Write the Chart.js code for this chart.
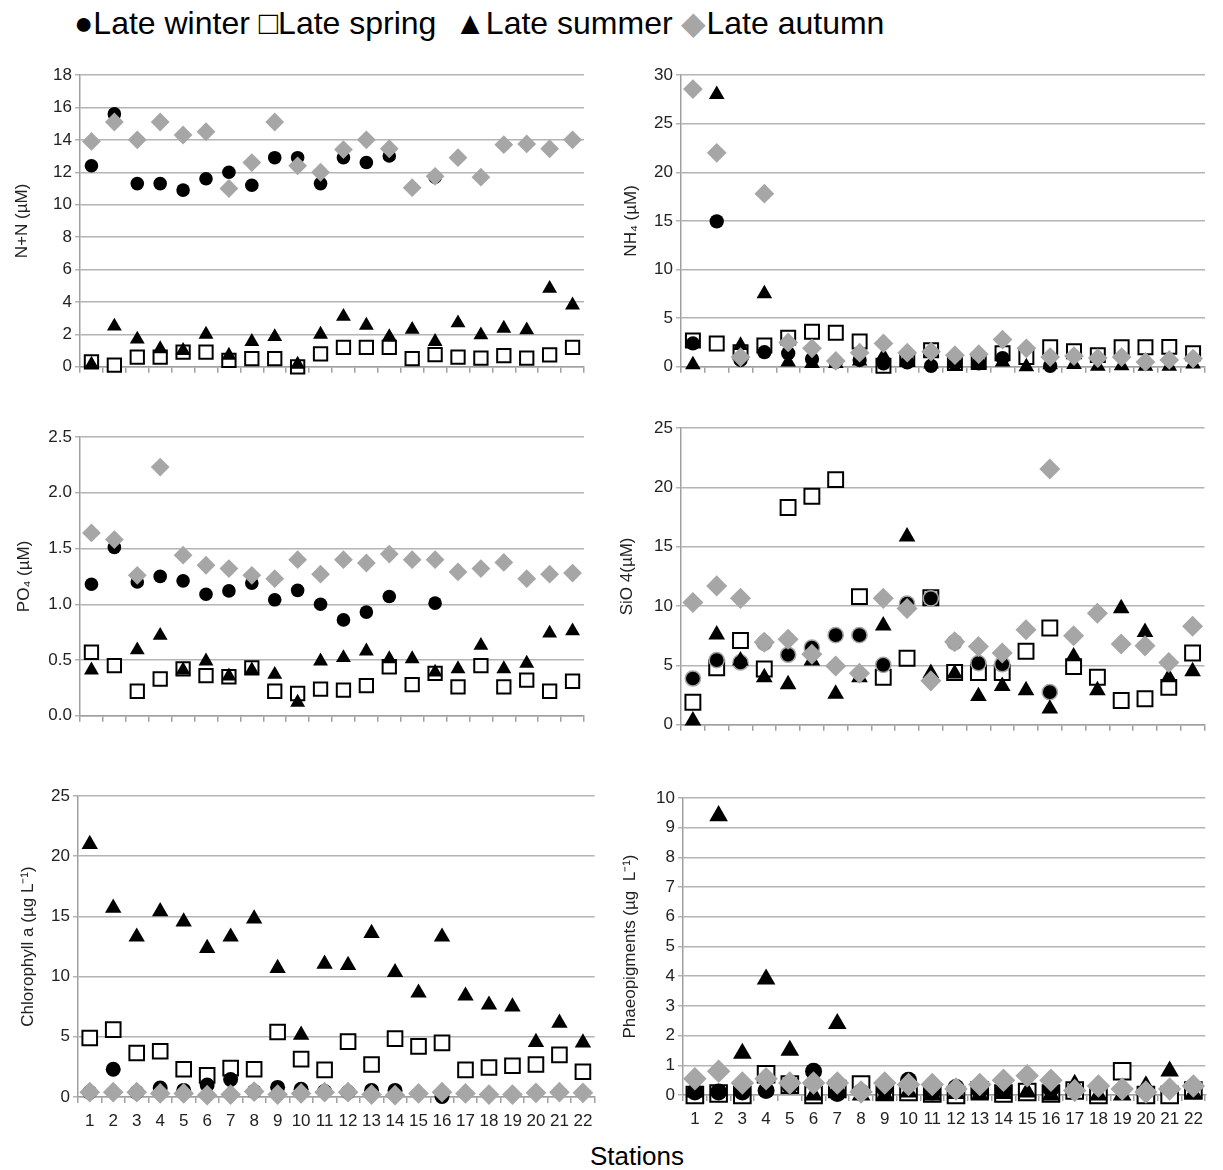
<!DOCTYPE html>
<html>
<head>
<meta charset="utf-8">
<script src="https://cdn.jsdelivr.net/npm/chart.js@4.4.1/dist/chart.umd.min.js"></script>
<style>
  body { margin: 0; background: #fff; width: 1223px; height: 1170px; position: relative; overflow: hidden;
         font-family: "Liberation Sans", Arial, sans-serif; color: #000; }
  canvas { position: absolute; }
  #legend { position: absolute; left: 74px; top: 4px; font-size: 32px; white-space: nowrap; }
  #legend .grey { color: #a6a6a6; }
  #xtitle { position: absolute; left: 590px; top: 1141px; font-size: 26px; }
</style>
</head>
<body>
<div id="legend">●Late winter □Late spring &nbsp;▲Late summer <span class="grey">◆</span>Late autumn</div>
<div id="xtitle">Stations</div>
<canvas id="cNN"></canvas>
<canvas id="cNH4"></canvas>
<canvas id="cPO4"></canvas>
<canvas id="cSiO4"></canvas>
<canvas id="cChl"></canvas>
<canvas id="cPhaeo"></canvas>
<script>
// stations 1..22
const stations = ['1','2','3','4','5','6','7','8','9','10','11','12','13','14','15','16','17','18','19','20','21','22'];

// N+N (µM)
const nnWinter = [12.4, 15.6, 11.3, 11.3, 10.9, 11.6, 12.0, 11.2, 12.9, 12.9, 11.3, 12.9, 12.6, 13.0, null, 11.7, null, null, null, null, null, null];
const nnSpring = [0.3, 0.1, 0.6, 0.6, 0.9, 0.9, 0.4, 0.5, 0.5, 0.0, 0.8, 1.2, 1.2, 1.2, 0.5, 0.75, 0.6, 0.53, 0.69, 0.53, 0.74, 1.2];
const nnSummer = [0.15, 2.5, 1.7, 1.1, 1.0, 2.0, 0.7, 1.55, 1.85, 0.15, 2.0, 3.1, 2.55, 1.85, 2.3, 1.55, 2.7, 1.96, 2.37, 2.27, 4.83, 3.8];
const nnAutumn = [13.9, 15.1, 14.0, 15.1, 14.3, 14.5, 11.0, 12.6, 15.1, 12.4, 12.0, 13.4, 14.0, 13.45, 11.05, 11.75, 12.9, 11.7, 13.7, 13.75, 13.45, 14.0];

// NH4 (µM)
const nh4Winter = [2.4, 14.95, 0.7, 1.5, 1.4, 0.8, 0.5, 0.7, 0.35, 0.45, 0.1, 0.3, 0.35, 0.9, null, 0.1, null, null, null, null, null, null];
const nh4Spring = [2.7, 2.4, 1.5, 2.2, 3.0, 3.6, 3.5, 2.6, 0.1, 0.8, 1.7, 0.4, 0.5, 1.4, 1.0, 2.0, 1.6, 1.2, 2.0, 2.0, 2.05, 1.4];
const nh4Summer = [0.2, 28.0, 2.2, 7.5, 0.5, 0.35, 0.35, 0.6, 1.1, 0.7, 0.3, 0.4, 0.35, 0.5, 0.0, 0.2, 0.25, 0.05, 0.1, 0.05, 0.05, 0.3];
const nh4Autumn = [28.55, 22.0, 1.0, 17.8, 2.5, 1.9, 0.6, 1.45, 2.4, 1.45, 1.55, 1.2, 1.3, 2.8, 1.9, 1.0, 1.1, 0.9, 1.0, 0.5, 0.7, 0.85];

// PO4 (µM)
const po4Winter = [1.18, 1.51, 1.20, 1.25, 1.21, 1.09, 1.12, 1.19, 1.04, 1.125, 1.0, 0.86, 0.93, 1.07, null, 1.01, null, null, null, null, null, null];
const po4Spring = [0.57, 0.45, 0.22, 0.33, 0.42, 0.36, 0.35, 0.43, 0.22, 0.2, 0.24, 0.23, 0.27, 0.44, 0.28, 0.38, 0.26, 0.45, 0.26, 0.32, 0.22, 0.31];
const po4Summer = [0.41, null, 0.59, 0.72, 0.41, 0.49, 0.355, 0.41, 0.37, 0.12, 0.49, 0.52, 0.58, 0.51, 0.51, 0.39, 0.42, 0.63, 0.42, 0.47, 0.74, 0.76];
const po4Autumn = [1.64, 1.58, 1.26, 2.23, 1.44, 1.35, 1.32, 1.26, 1.23, 1.40, 1.27, 1.40, 1.37, 1.45, 1.40, 1.40, 1.29, 1.32, 1.375, 1.23, 1.27, 1.28];

// SiO4 (µM)
const sio4Winter = [3.9, 5.45, 5.25, 6.9, 5.9, 6.5, 7.55, 7.55, 5.05, 10.2, 10.65, 6.95, 5.2, 5.1, null, 2.75, null, null, null, null, null, null];
const sio4Spring = [1.9, 4.8, 7.1, 4.7, 18.3, 19.25, 20.65, 10.8, 4.0, 5.6, 10.7, 4.4, 4.4, 4.4, 6.2, 8.15, 4.9, 4.0, 2.05, 2.2, 3.15, 6.05];
const sio4Summer = [0.35, 7.6, 5.4, 4.0, 3.4, 5.4, 2.6, 4.0, 8.35, 15.85, 4.35, 4.3, 2.4, 3.25, 2.9, 1.35, 5.75, 2.9, 9.8, 7.8, 4.0, 4.5];
const sio4Autumn = [10.3, 11.7, 10.65, 6.95, 7.2, 5.95, 4.95, 4.35, 10.65, 9.8, 3.7, 7.0, 6.6, 6.05, 8.0, 21.55, 7.5, 9.4, 6.8, 6.65, 5.25, 8.3];

// Chlorophyll a (µg L-1)
const chlWinter = [0.4, 2.3, 0.4, 0.75, 0.55, 1.0, 1.45, 0.45, 0.8, 0.65, 0.45, 0.4, 0.55, 0.55, null, 0.05, null, null, null, null, null, null];
const chlSpring = [4.9, 5.6, 3.65, 3.8, 2.3, 1.8, 2.4, 2.3, 5.4, 3.15, 2.25, 4.6, 2.7, 4.85, 4.2, 4.5, 2.25, 2.45, 2.6, 2.7, 3.5, 2.1];
const chlSummer = [21.0, 15.7, 13.3, 15.4, 14.55, 12.35, 13.3, 14.8, 10.7, 5.15, 11.05, 10.95, 13.6, 10.35, 8.65, 13.3, 8.4, 7.65, 7.5, 4.55, 6.15, 4.5];
const chlAutumn = [0.4, 0.4, 0.4, 0.3, 0.3, 0.15, 0.2, 0.45, 0.2, 0.3, 0.4, 0.4, 0.2, 0.15, 0.3, 0.4, 0.3, 0.2, 0.2, 0.35, 0.4, 0.35];

// Phaeopigments (µg L-1)
const phWinter = [0.1, 0.1, 0.1, 0.15, 0.3, 0.8, 0.05, 0.1, 0.2, 0.5, 0.1, 0.25, 0.15, 0.15, null, 0.2, null, null, null, null, null, null];
const phSpring = [0.0, 0.05, 0.0, 0.7, 0.35, 0.0, 0.2, 0.35, 0.1, 0.1, 0.05, 0.0, 0.15, 0.05, 0.1, 0.05, 0.15, 0.0, 0.8, 0.0, 0.0, 0.15];
const phSummer = [0.1, 9.4, 1.4, 3.9, 1.5, 0.0, 2.4, 0.0, 0.0, 0.1, 0.0, 0.05, 0.0, 0.05, 0.1, 0.0, 0.35, 0.0, 0.0, 0.3, 0.8, 0.05];
const phAutumn = [0.55, 0.8, 0.4, 0.55, 0.4, 0.4, 0.4, 0.1, 0.4, 0.35, 0.35, 0.2, 0.35, 0.5, 0.65, 0.5, 0.15, 0.3, 0.2, 0.1, 0.2, 0.3];

const GRID = '#b4b4b4';
const AXIS = '#a0a0a0';
const GREY = '#a6a6a6';

// one scatter panel; area = plot rectangle in page pixels, k = marker size factor
function makePanel(id, area, yMax, yStep, decimals, title, titleX, showLabels, series, k, circleRim) {
  const W = 76, PT = 16, PR = 12;
  const H = showLabels ? 44 : 12;
  const canvas = document.getElementById(id);
  const left = area.L - W, top = area.T - PT;
  canvas.width = area.R + PR - left;
  canvas.height = area.B + H - top;
  canvas.style.left = left + 'px';
  canvas.style.top = top + 'px';

  const titleSize = 17;
  const titlePad = titleX - left - titleSize * 1.2 / 2;

  new Chart(canvas.getContext('2d'), {
    type: 'line',
    data: {
      labels: stations,
      datasets: [
        { label: 'Late winter', data: series[0], order: 2, pointStyle: 'circle', pointRadius: 6.8 * k,
          backgroundColor: '#000', borderColor: circleRim ? GREY : '#000', pointBorderWidth: circleRim ? 1.5 : 0 },
        { label: 'Late spring', data: series[1], order: 3, pointStyle: 'rect', pointRadius: 9.4 * k,
          backgroundColor: '#fff', borderColor: '#000', pointBorderWidth: 2 },
        { label: 'Late summer', data: series[2], order: 1, pointStyle: 'triangle', pointRadius: 8.6 * k,
          backgroundColor: '#000', borderColor: '#000', pointBorderWidth: 0 },
        { label: 'Late autumn', data: series[3], order: 0, pointStyle: 'rectRot', pointRadius: 9.4 * k,
          backgroundColor: GREY, borderColor: GREY, pointBorderWidth: 0 }
      ].map(d => Object.assign(d, { showLine: false, clip: false, pointHoverRadius: d.pointRadius }))
    },
    options: {
      responsive: false,
      animation: false,
      devicePixelRatio: 1,
      events: [],
      layout: { padding: { left: 0, right: PR, top: PT, bottom: 0 } },
      plugins: { legend: { display: false }, tooltip: { enabled: false } },
      scales: {
        x: {
          type: 'category',
          offset: true,
          grid: { offset: true, drawOnChartArea: false, tickLength: 6, color: AXIS, lineWidth: 1.5 },
          border: { color: AXIS, width: 1.5 },
          ticks: { display: showLabels, autoSkip: false, maxRotation: 0, padding: 8,
                   color: '#222', font: { family: 'Liberation Sans', size: 17 } },
          afterFit: s => { s.height = H; }
        },
        y: {
          min: 0,
          max: yMax,
          ticks: { stepSize: yStep, padding: 3, color: '#222', font: { family: 'Liberation Sans', size: 17 },
                   callback: v => v.toFixed(decimals) },
          grid: { color: GRID, lineWidth: 1.5, tickLength: 5 },
          border: { color: AXIS, width: 1.5 },
          title: { display: true, text: title, color: '#222', padding: { top: titlePad, bottom: 0 },
                   font: { family: 'Liberation Sans', size: titleSize } },
          afterFit: s => { s.width = W; }
        }
      }
    }
  });
}

makePanel('cNN', { L: 80, R: 584, T: 75, B: 368 }, 18, 2, 0, 'N+N (µM)', 22, false,
  [nnWinter, nnSpring, nnSummer, nnAutumn], 1.0);
makePanel('cNH4', { L: 681, R: 1205, T: 75, B: 368 }, 30, 5, 0, 'NH₄ (µM)', 631, false,
  [nh4Winter, nh4Spring, nh4Summer, nh4Autumn], 1.05);
makePanel('cPO4', { L: 80, R: 584, T: 437, B: 717 }, 2.5, 0.5, 1, 'PO₄ (µM)', 24, false,
  [po4Winter, po4Spring, po4Summer, po4Autumn], 1.0);
makePanel('cSiO4', { L: 681, R: 1205, T: 428, B: 726 }, 25, 5, 0, 'SiO 4(µM)', 627, false,
  [sio4Winter, sio4Spring, sio4Summer, sio4Autumn], 1.12, true);
makePanel('cChl', { L: 78, R: 595, T: 796, B: 1097 }, 25, 5, 0, 'Chlorophyll a (µg L⁻¹)', 28, true,
  [chlWinter, chlSpring, chlSummer, chlAutumn], 1.1);
makePanel('cPhaeo', { L: 683, R: 1207, T: 798, B: 1095 }, 10, 1, 0, 'Phaeopigments (µg  L⁻¹)', 630, true,
  [phWinter, phSpring, phSummer, phAutumn], 1.25);
</script>
</body>
</html>
